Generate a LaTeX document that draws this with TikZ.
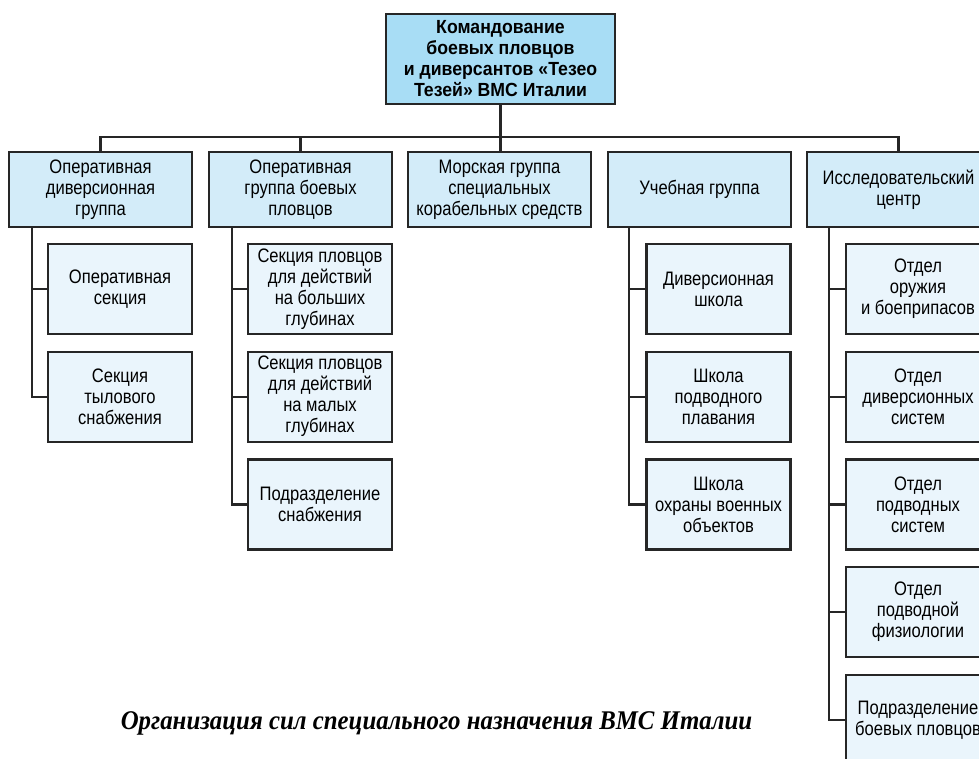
\documentclass[tikz,border=0pt]{standalone}
\usepackage{fontspec}
\setmainfont{Liberation Sans}[FakeStretch=0.85]
\newfontfamily\headfont{Liberation Sans Bold}[FakeStretch=0.93]
\newfontfamily\capfont{Liberation Serif}[FakeStretch=0.92]
\usetikzlibrary{positioning, calc}
\definecolor{topblue}{HTML}{A8DDF5}
\definecolor{grpblue}{HTML}{D3ECF9}
\definecolor{subblue}{HTML}{EAF5FC}
\definecolor{edge}{HTML}{262626}

\begin{document}
\begin{tikzpicture}[x=1pt, y=-1pt,
  box/.style={draw=edge, line width=2.4pt, align=center, inner sep=2pt, font=\fontsize{19.5}{21}\selectfont},
  head/.style={box, fill=topblue, minimum width=229pt, minimum height=90pt, font=\headfont\fontsize{19}{21}\selectfont},
  grp/.style={box, fill=grpblue, minimum width=183pt, minimum height=75pt},
  sub/.style={box, fill=subblue, minimum width=144pt, minimum height=90pt},
  link/.style={draw=edge, line width=2.4pt},
]
\path[use as bounding box] (0,0) rectangle (979,758);
\clip (0,0) rectangle (979,758);

\node[head] (top) at (500.5,59) {Командование\\боевых пловцов\\и диверсантов «Тезео\\Тезей» ВМС Италии};

\node[grp] (g1) at (100.5,189.5) {Оперативная\\диверсионная\\группа};
\node[grp] (g2) at (300.5,189.5) {Оперативная\\группа боевых\\пловцов};
\node[grp] (g3) at (499.5,189.5) {Морская группа\\специальных\\корабельных средств};
\node[grp] (g4) at (699.5,189.5) {Учебная группа};
\node[grp] (g5) at (898.5,189.5) {Исследовательский\\центр};

\node[sub] (s11) at (120,289) {Оперативная\\секция};
\node[sub, below=15.3pt of s11] (s12) {Секция\\тылового\\снабжения};

\node[sub] (s21) at (320,289) {Секция пловцов\\для действий\\на больших\\глубинах};
\node[sub, below=15.3pt of s21] (s22) {Секция пловцов\\для действий\\на малых\\глубинах};
\node[sub, below=15.3pt of s22] (s23) {Подразделение\\снабжения};

\node[sub] (s41) at (718.5,289) {Диверсионная\\школа};
\node[sub, below=15.3pt of s41] (s42) {Школа\\подводного\\плавания};
\node[sub, below=15.3pt of s42] (s43) {Школа\\охраны военных\\объектов};

\node[sub] (s51) at (918,289) {Отдел\\оружия\\и боеприпасов};
\node[sub, below=15.3pt of s51] (s52) {Отдел\\диверсионных\\систем};
\node[sub, below=15.3pt of s52] (s53) {Отдел\\подводных\\систем};
\node[sub, below=15.3pt of s53] (s54) {Отдел\\подводной\\физиологии};
\node[sub, below=15.3pt of s54] (s55) {Подразделение\\боевых пловцов};

\coordinate (bus) at (0,137);
\draw[link] (g1.north) -- (g1.north |- bus) -- (g5.north |- bus) -- (g5.north);
\draw[link] (g2.north) -- (g2.north |- bus);
\draw[link] (top.south) -- (top.south |- g3.north);

\draw[link] ([xshift=24pt]g1.south west) |- (s11.west);
\draw[link] ([xshift=24pt]g1.south west) |- (s12.west);
\draw[link] ([xshift=24pt]g2.south west) |- (s21.west);
\draw[link] ([xshift=24pt]g2.south west) |- (s22.west);
\draw[link] ([xshift=24pt]g2.south west) |- (s23.west);
\draw[link] ([xshift=22pt]g4.south west) |- (s41.west);
\draw[link] ([xshift=22pt]g4.south west) |- (s42.west);
\draw[link] ([xshift=22pt]g4.south west) |- (s43.west);
\draw[link] ([xshift=23pt]g5.south west) |- (s51.west);
\draw[link] ([xshift=23pt]g5.south west) |- (s52.west);
\draw[link] ([xshift=23pt]g5.south west) |- (s53.west);
\draw[link] ([xshift=23pt]g5.south west) |- (s54.west);
\draw[link] ([xshift=23pt]g5.south west) |- (s55.west);

\node[font=\capfont\bfseries\itshape\fontsize{27}{30}\selectfont, anchor=base] (cap) at (436.5,729) {Организация сил специального назначения ВМС Италии};
\end{tikzpicture}
\end{document}
